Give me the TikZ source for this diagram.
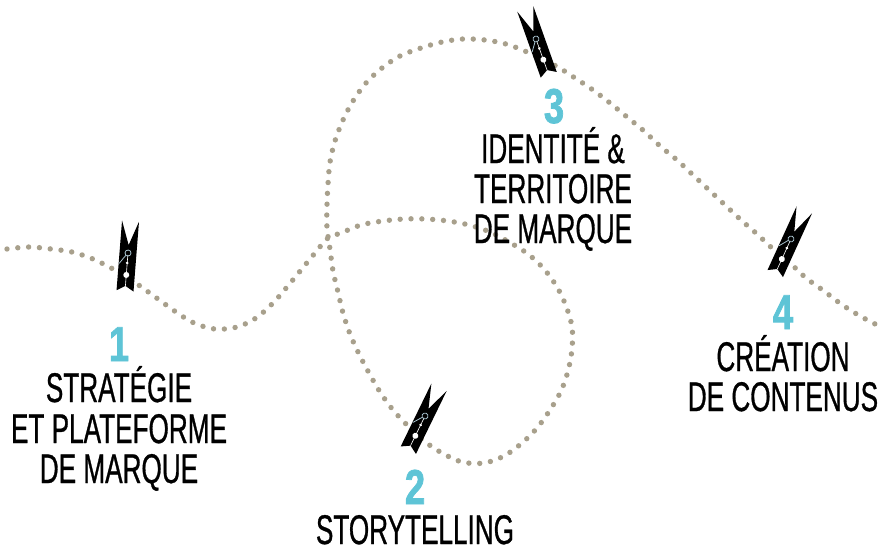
\documentclass[tikz,border=0pt]{standalone}
\usepackage{fontspec}
\setmainfont{Liberation Sans}[FakeStretch=0.63,FakeBold=0.7]
\newfontfamily\numfont{Liberation Sans}[FakeStretch=0.74,FakeBold=1.5]
\definecolor{dotc}{HTML}{A8A08C}
\definecolor{numc}{HTML}{5EC4D6}
\definecolor{wirec}{HTML}{A9C4D0}
\tikzset{
  x=1pt,y=-1pt,
  trail/.style={dotc,line width=5.4pt,line cap=round,dash pattern=on 0pt off 10.85pt},
  lbl/.style={font=\fontsize{41.5}{42}\selectfont,inner sep=0pt,anchor=base,text=black},
  numlbl/.style={font=\numfont\bfseries\fontsize{49}{49}\selectfont,inner sep=0pt,anchor=base,text=numc},
  pin/.pic={
    \fill[black] (-8.5,-32) -- (0,-8) -- (8.5,-32) -- (8.5,38) -- (0,33) -- (-8.5,38) -- cycle;
    \draw[white,line width=0.6pt] (0,2) -- (0,33);
    \fill[white] (0,10) circle (1.5);
    \fill[white] (0,22) circle (3);
    \draw[wirec,line width=0.8pt] (0,0) circle (3);
    \draw[wirec,line width=0.8pt] (-2,2.5) -- (-8,11);
  }
}
\begin{document}
\begin{tikzpicture}
\useasboundingbox (0,0) rectangle (884,549);
\draw[trail] plot[smooth,tension=0.55] coordinates {
(7,249)(29,247)(51,249)(72,252)(93,259)(113,269)(127,277)(140,286)(158,299)(176,312)(194,323)(215,329)(237,327)(256,318)(273,303)(287,287)(301,270)(315,253)(328,238)
(341,233)(361,225)(383,221)(404,219)(426,219)(448,221)(469,225)(490,232)(509,242)(528,254)(544,269)(557,287)(566,306)(572,327)(572,349)(568,371)(561,391)(550,410)(537,428)(522,443)(504,456)(484,463)(462,462)(442,453)(424,441)(408,426)(393,410)(380,392)(369,373)(359,354)(350,334)(343,313)(338,292)(333,271)(330,249)(327,228)(327,205)(328,184)(330,162)(335,141)(343,120)(353,101)(366,83)(382,68)(400,56)(421,48)(442,42)(463,39)(485,40)(506,44)(527,52)(556,66)(575,78)(593,90)(610,103)(627,117)(644,131)(660,146)(677,160)(693,175)(709,190)(725,205)(741,220)(757,234)(773,249)(790,263)(806,278)(824,291)(841,304)(860,316)(879,326)(883,328)};
\pic at (128,253) [rotate=-4.5] {pin};
\pic at (425,416) [rotate=-26] {pin};
\pic at (536,39) [rotate=19.6] {pin};
\pic at (791,239) [rotate=-24.5] {pin};
\node[numlbl] (n1) at (119,361) {1};
\node[lbl] (t1a) at (119,402) {STRATÉGIE};
\node[lbl] (t1b) at (119,443) {ET PLATEFORME};
\node[lbl] (t1c) at (119,483) {DE MARQUE};
\node[numlbl] (n2) at (415,504) {2};
\node[lbl] (t2a) at (415,544) {STORYTELLING};
\node[numlbl] (n3) at (554,123) {3};
\node[lbl] (t3a) at (553,163) {IDENTITÉ \&};
\node[lbl] (t3b) at (553,203) {TERRITOIRE};
\node[lbl] (t3c) at (553,243) {DE MARQUE};
\node[numlbl] (n4) at (783,329) {4};
\node[lbl] (t4a) at (783,371) {CRÉATION};
\node[lbl] (t4b) at (783,411) {DE CONTENUS};
\end{tikzpicture}
\end{document}
